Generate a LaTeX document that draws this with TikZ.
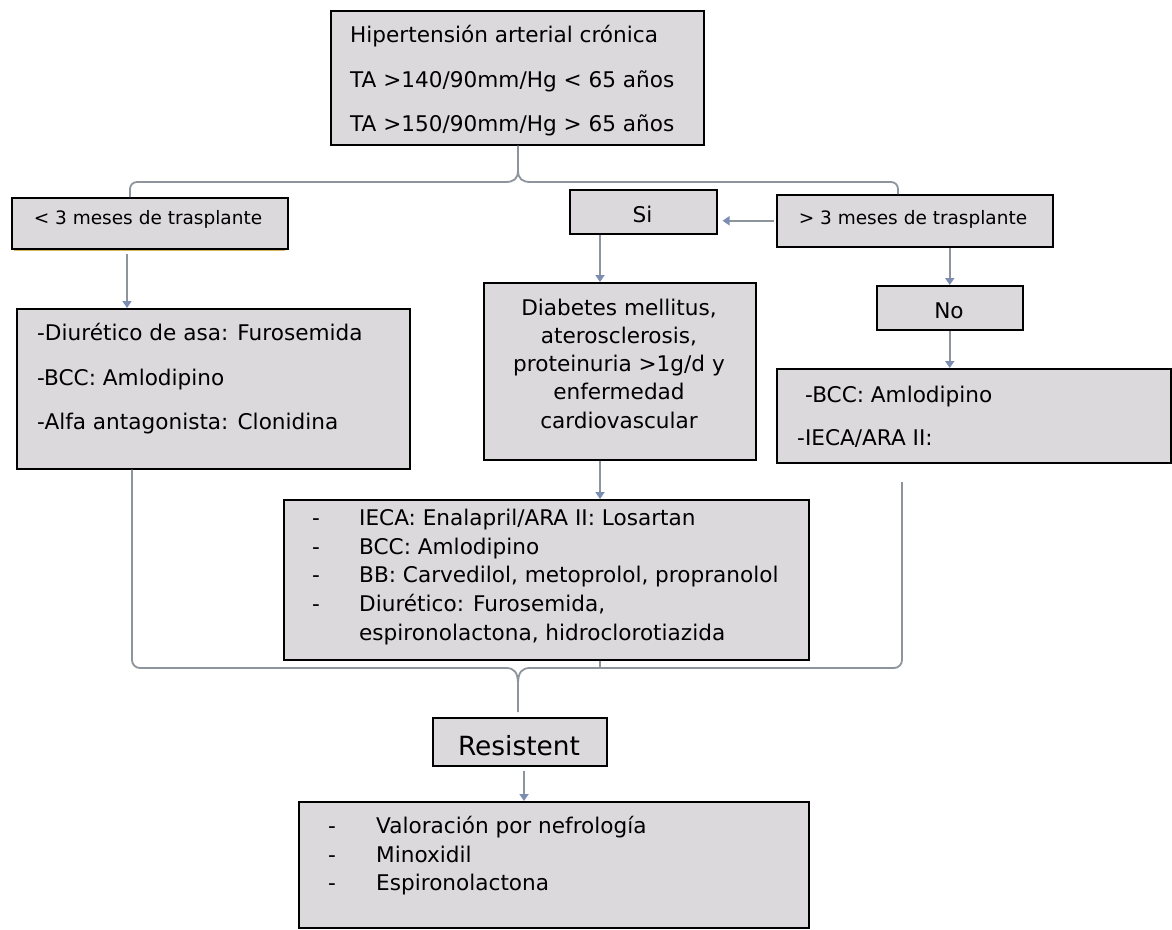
\documentclass[tikz,border=0pt]{standalone}
\usepackage{fontspec}
\setmainfont{DejaVu Sans}
\usetikzlibrary{arrows.meta}
\definecolor{boxfill}{HTML}{DCD9DC}
\definecolor{connc}{HTML}{8E949B}
\definecolor{tipc}{HTML}{7B8DB0}
\definecolor{shadowc}{HTML}{D6B85E}
\tikzset{
  box/.style={draw=black, line width=1.5pt, fill=boxfill, inner sep=0pt, anchor=north west},
  txt/.style={inner sep=0pt, font=\fontsize{21.6}{25}\selectfont},
  smalltxt/.style={inner sep=0pt, font=\fontsize{18.5}{22}\selectfont},
  bigtxt/.style={inner sep=0pt, font=\fontsize{26.4}{30}\selectfont},
  conn/.style={draw=connc, line width=1.8pt},
  arr/.style={conn, -{Triangle[width=9pt,length=7pt,color=tipc]}},
  shade/.style={fill=shadowc, draw=none}
}
\begin{document}
\begin{tikzpicture}[x=1pt,y=-1pt]
\useasboundingbox (0,0) rectangle (1172,929);
\fill[white] (0,0) rectangle (1172,929);

% shadows
\fill[shade] (14,247) rectangle (285,251);
\fill[shade] (780,245) rectangle (1054,248);
\fill[shade] (1169,372) rectangle (1172,462);

% boxes
\node[box, minimum width=373pt, minimum height=134pt] (top) at (330,10) {};
\node[box, minimum width=276pt, minimum height=51pt] (lt) at (11,197) {};
\node[box, minimum width=147pt, minimum height=44pt] (si) at (569,189) {};
\node[box, minimum width=276pt, minimum height=52pt] (gt) at (776,194) {};
\node[box, minimum width=393pt, minimum height=160pt] (lbox) at (16,308) {};
\node[box, minimum width=272pt, minimum height=177pt] (mid) at (483,282) {};
\node[box, minimum width=146pt, minimum height=44pt] (no) at (876,285) {};
\node[box, minimum width=394pt, minimum height=94pt] (bcc) at (776,368) {};
\node[box, minimum width=525pt, minimum height=160pt] (drug) at (283,499) {};
\node[box, minimum width=174pt, minimum height=48pt] (res) at (432,717) {};
\node[box, minimum width=510pt, minimum height=126pt] (fin) at (298,801) {};

% texts
\node[txt, anchor=base west] (top1) at (350,42) {Hipertensión arterial crónica};
\node[txt, anchor=base west] (top2) at (350,87) {TA >140/90mm/Hg < 65 años};
\node[txt, anchor=base west] (top3) at (350,131) {TA >150/90mm/Hg > 65 años};

\node[smalltxt, anchor=base] (ltt) at (148,224) {< 3 meses de trasplante};
\node[txt, anchor=base] (sit) at (642.5,222) {Si};
\node[smalltxt, anchor=base] (gtt) at (913,224) {> 3 meses de trasplante};
\node[txt, anchor=base] (not) at (949,318) {No};

\node[txt, anchor=base west] (l1) at (37,340) {-Diurético de asa: Furosemida};
\node[txt, anchor=base west] (l2) at (37,385) {-BCC: Amlodipino};
\node[txt, anchor=base west] (l3) at (37,429) {-Alfa antagonista: Clonidina};

\node[txt, anchor=base] (m1) at (619,315) {Diabetes mellitus,};
\node[txt, anchor=base] (m2) at (619,343) {aterosclerosis,};
\node[txt, anchor=base] (m3) at (619,371) {proteinuria >1g/d y};
\node[txt, anchor=base] (m4) at (619,399) {enfermedad};
\node[txt, anchor=base] (m5) at (619,428) {cardiovascular};

\node[txt, anchor=base west] (b1) at (805,402) {-BCC: Amlodipino};
\node[txt, anchor=base west] (b2) at (797,445) {-IECA/ARA II:};

\node[txt, anchor=base west] (d1h) at (312,525) {-};
\node[txt, anchor=base west] (d1) at (359,525) {IECA: Enalapril/ARA II: Losartan};
\node[txt, anchor=base west] (d2h) at (312,554) {-};
\node[txt, anchor=base west] (d2) at (359,554) {BCC: Amlodipino};
\node[txt, anchor=base west] (d3h) at (312,582) {-};
\node[txt, anchor=base west] (d3) at (359,582) {BB: Carvedilol, metoprolol, propranolol};
\node[txt, anchor=base west] (d4h) at (312,611) {-};
\node[txt, anchor=base west] (d4) at (359,611) {Diurético: Furosemida,};
\node[txt, anchor=base west] (d5) at (359,640) {espironolactona, hidroclorotiazida};

\node[bigtxt, anchor=base] (rest) at (519,755) {Resistent};

\node[txt, anchor=base west] (f1h) at (328,833) {-};
\node[txt, anchor=base west] (f1) at (376,833) {Valoración por nefrología};
\node[txt, anchor=base west] (f2h) at (328,862) {-};
\node[txt, anchor=base west] (f2) at (376,862) {Minoxidil};
\node[txt, anchor=base west] (f3h) at (328,890) {-};
\node[txt, anchor=base west] (f3) at (376,890) {Espironolactona};

% helper coordinates
\coordinate (xA) at (127,0);
\coordinate (xB) at (600,0);
\coordinate (xC) at (524,0);
\coordinate (xT) at (518,0);
\coordinate (xL) at (130,0);
\coordinate (xR) at (898,0);
\coordinate (xBL) at (132,0);
\coordinate (xBR) at (902,0);
\coordinate (yT) at (0,182);
\coordinate (yB) at (0,668);

% top brace
\draw[conn, rounded corners=7pt] (lt.north -| xL) -- (xL |- yT) -- (505,182);
\draw[conn, rounded corners=7pt] (gt.north -| xR) -- (xR |- yT) -- (531,182);
\draw[conn] (505,182) .. controls (514,182) and (518,179) .. (518,170) -- (top.south -| xT);
\draw[conn] (531,182) .. controls (522,182) and (518,179) .. (518,170);

% arrows
\draw[arr, shorten <=4pt] (lt.south -| xA) -- (lbox.north -| xA);
\draw[arr, shorten <=2pt, shorten >=5pt] (gt.west) -- (gt.west -| si.east);
\draw[arr] (si.south -| xB) -- (mid.north -| xB);
\draw[arr] (gt.south -| no.north) -- (no.north);
\draw[arr] (no.south) -- (bcc.north -| no.south);
\draw[arr] (mid.south -| xB) -- (drug.north -| xB);
\draw[arr, shorten <=4pt] (res.south -| xC) -- (fin.north -| xC);

% bottom brace
\draw[conn, rounded corners=8pt] (lbox.south -| xBL) -- (xBL |- yB) -- (506,668);
\draw[conn, rounded corners=8pt] (902,482) -- (xBR |- yB) -- (530,668);
\draw[conn] (506,668) .. controls (514,668) and (518,672) .. (518,684) -- ([yshift=5pt]res.north -| xT);
\draw[conn] (530,668) .. controls (522,668) and (518,672) .. (518,684);
\draw[conn] (drug.south -| xB) -- (xB |- yB);
\end{tikzpicture}
\end{document}
